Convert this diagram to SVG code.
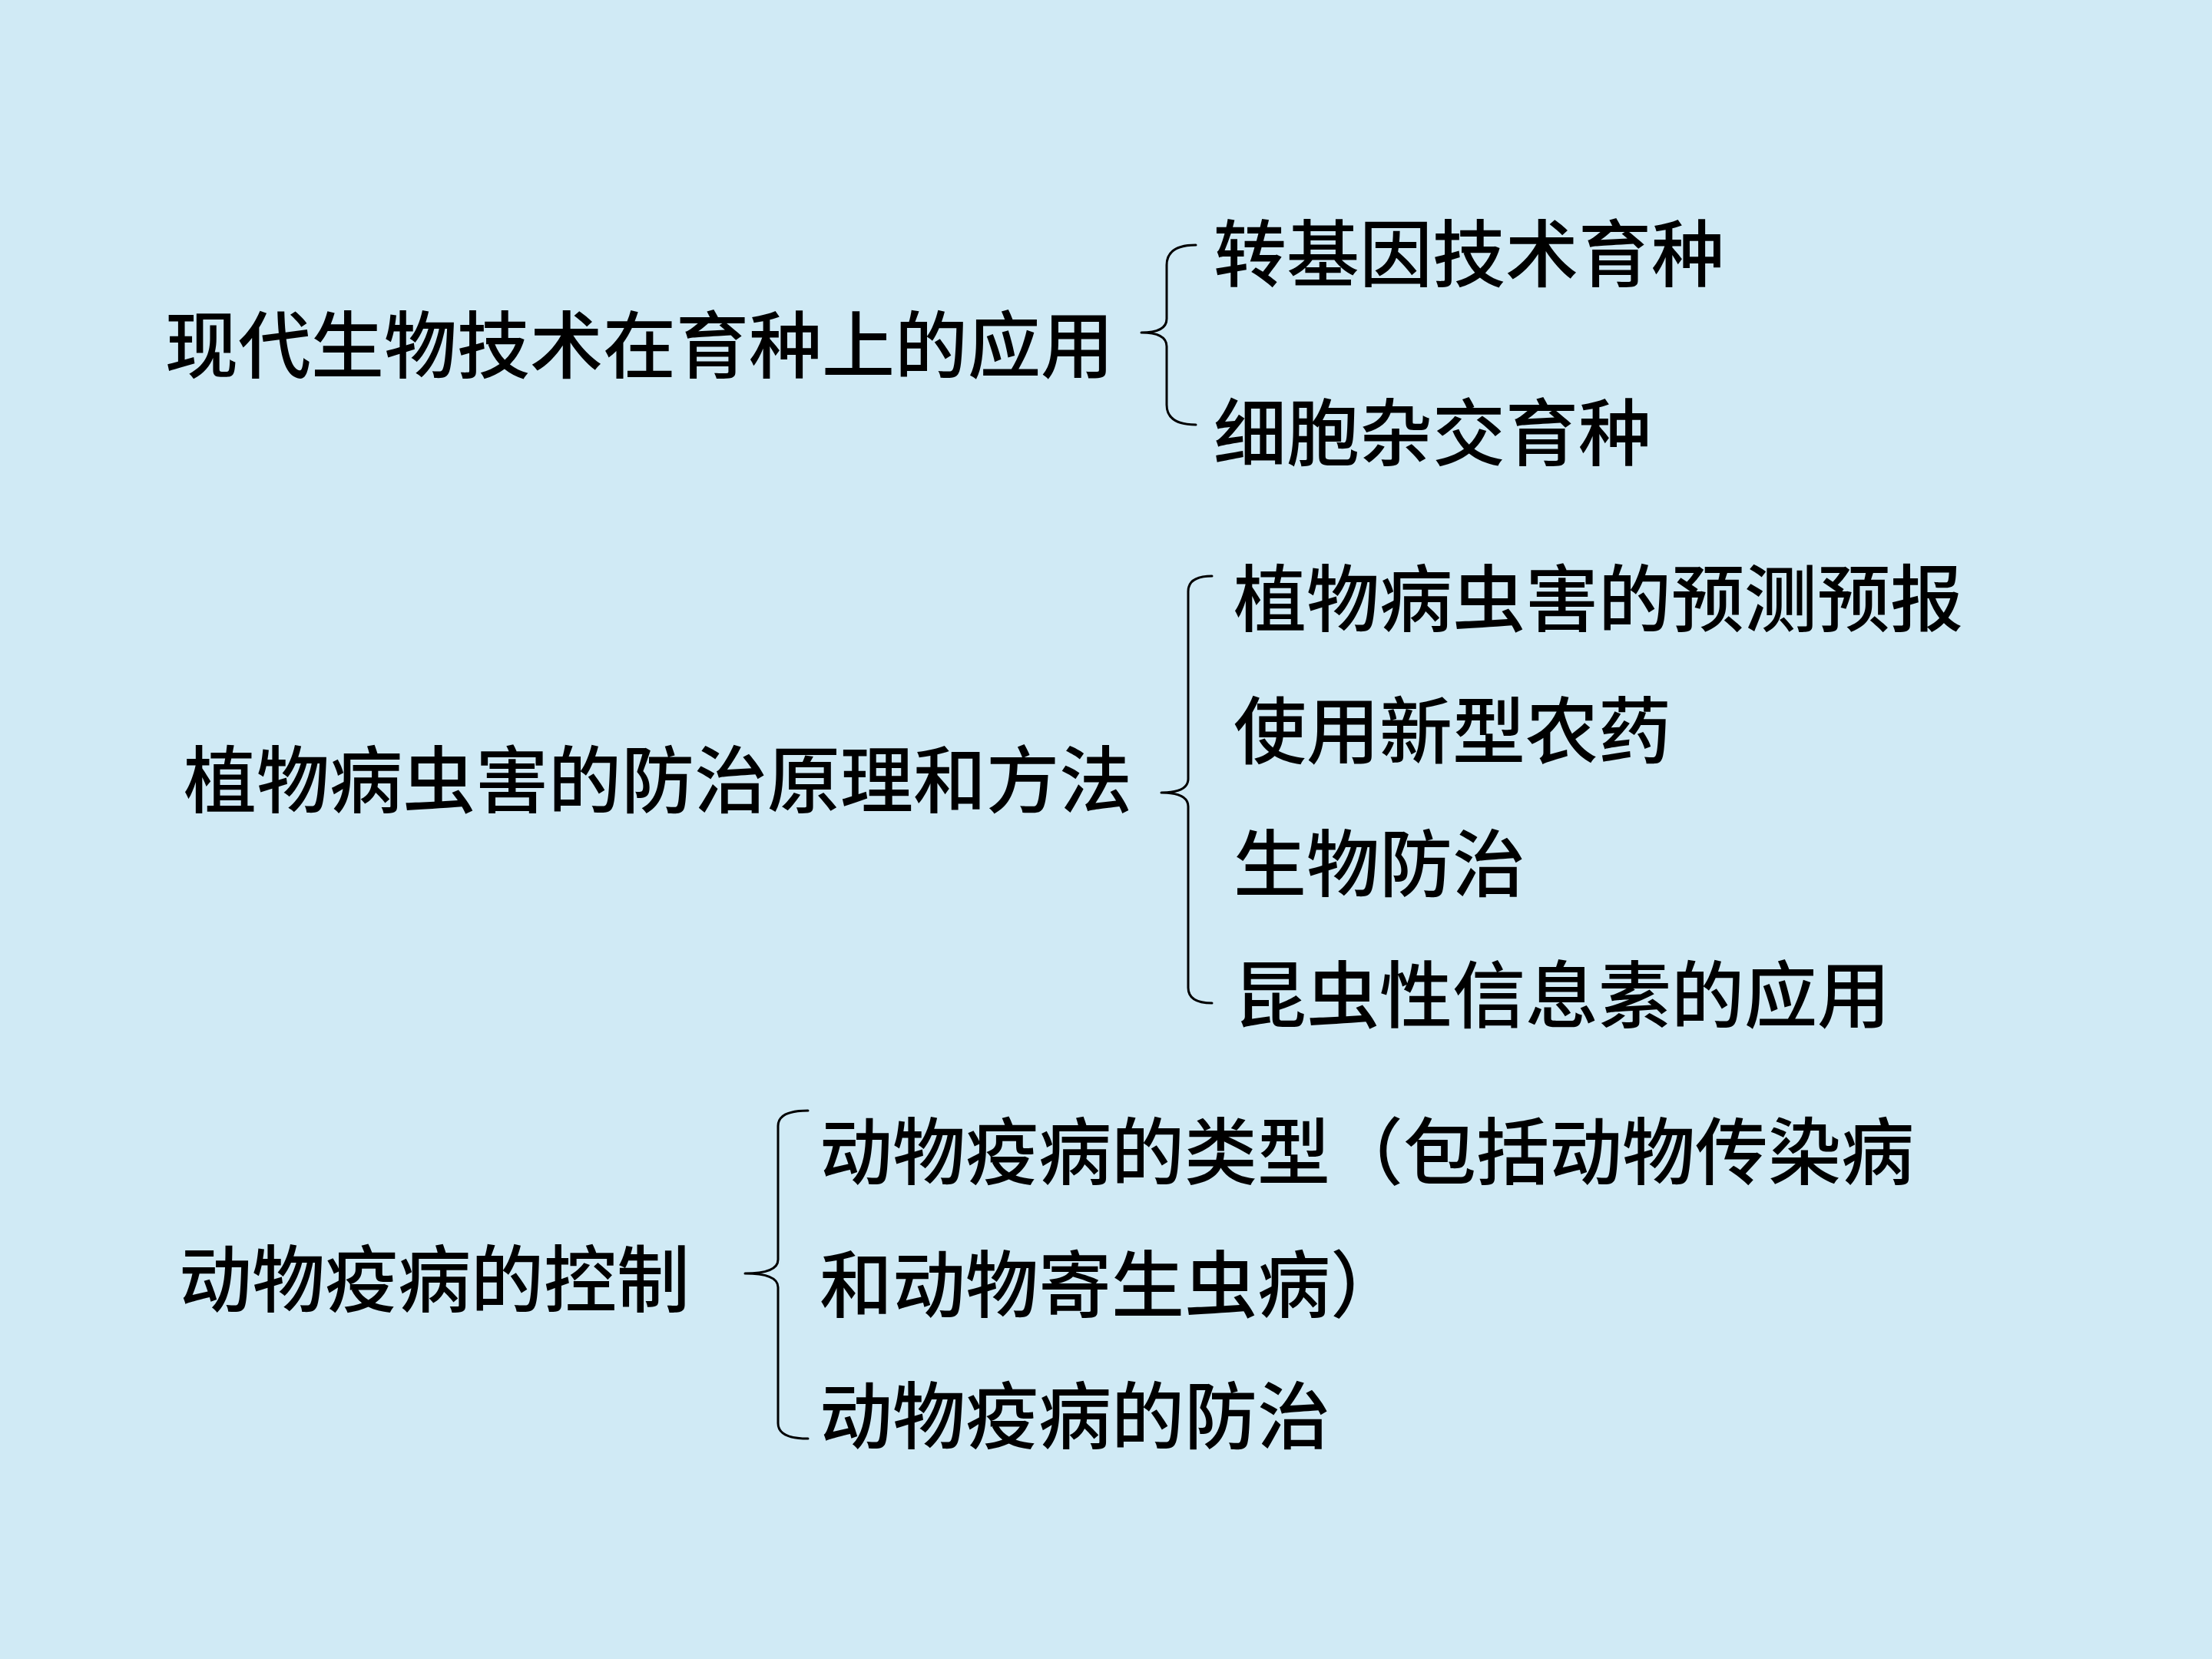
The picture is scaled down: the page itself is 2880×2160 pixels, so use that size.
<svg xmlns="http://www.w3.org/2000/svg" width="2880" height="2160" viewBox="0 0 2880 2160">
<style>
text{font-family:"Noto Sans CJK SC","Noto Sans CJK TC",sans-serif;font-size:95px;font-weight:500;fill:#000;}
.br{fill:none;stroke:#000;stroke-width:3;stroke-linecap:round;stroke-linejoin:round;}
</style>
<rect x="0" y="0" width="2880" height="2160" fill="#d0eaf5"/>
<g id="connectors">
<path class="br" d="M1557,319 Q1519,319 1519,345 L1519,415 Q1519,433 1486,433 Q1519,433 1519,451 L1519,527 Q1519,553 1557,553"/>
<path class="br" d="M1578,750 Q1547,750 1547,770 L1547,1014 Q1547,1032 1512,1032 Q1547,1032 1547,1050 L1547,1286 Q1547,1306 1578,1306"/>
<path class="br" d="M1052,1446 Q1013,1446 1013,1466 L1013,1640 Q1013,1658 970,1658 Q1013,1658 1013,1676 L1013,1853 Q1013,1873 1052,1873"/>
</g>
<g id="n-breeding"><text x="215" y="485">现代生物技术在育种上的应用</text></g>
<g id="n-transgenic"><text x="1580" y="366">转基因技术育种</text></g>
<g id="n-cellhybrid"><text x="1580" y="599">细胞杂交育种</text></g>
<g id="n-pest"><text x="239" y="1051">植物病虫害的防治原理和方法</text></g>
<g id="n-forecast"><text x="1606" y="815">植物病虫害的预测预报</text></g>
<g id="n-pesticide"><text x="1606" y="987">使用新型农药</text></g>
<g id="n-bio"><text x="1606" y="1160">生物防治</text></g>
<g id="n-pheromone"><text x="1606" y="1331">昆虫性信息素的应用</text></g>
<g id="n-animal"><text x="233" y="1701">动物疫病的控制</text></g>
<g id="n-types"><text x="1067" y="1535">动物疫病的类型（包括动物传染病</text><text x="1067" y="1708">和动物寄生虫病）</text></g>
<g id="n-prevent"><text x="1067" y="1879">动物疫病的防治</text></g>
</svg>
